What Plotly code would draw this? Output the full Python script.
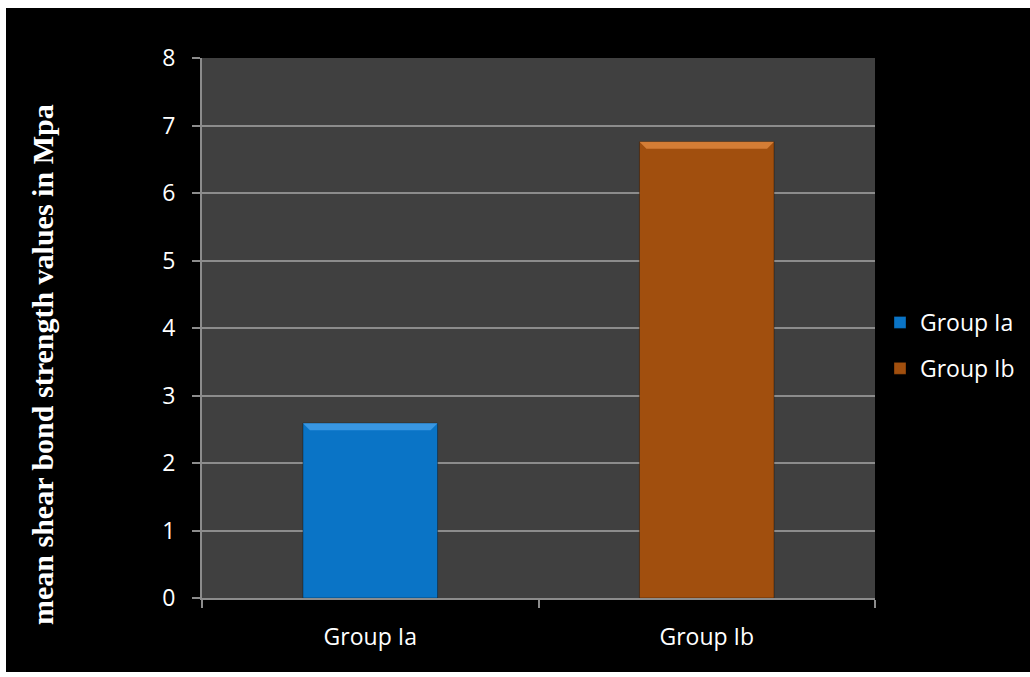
import plotly.graph_objects as go

categories = ["Group Ia", "Group Ib"]
values = [2.59, 6.76]
colors = ["#0A74C6", "#A14F0E"]
highlight = ["#3E9BE6", "#D9823A"]
y_ticks = [0, 1, 2, 3, 4, 5, 6, 7, 8]
y_title = "mean shear bond strength values in Mpa"

W, H = 1030, 677
L, R, T, B = 202, 155, 58, 79
pw, ph = W - L - R, H - T - B


def px_x(px):
    return (px - L) / pw


def px_y(py):
    return (H - B - py) / ph


fig = go.Figure()
for cat, val, col in zip(categories, values, colors):
    fig.add_trace(go.Bar(
        x=[cat], y=[val], name=cat, legendgroup=cat,
        marker=dict(color=col, line=dict(color="rgba(0,0,0,0.35)", width=1)),
        width=0.4,
    ))

# bevel highlight along the top of each bar
bw = 0.4
for i, (val, hc) in enumerate(zip(values, highlight)):
    dy = 7 / (ph / 8)
    dx = 7 / (pw / 2)
    x0, x1 = i - bw / 2, i + bw / 2
    fig.add_shape(
        type="path", xref="x", yref="y",
        path=f"M {x0},{val} L {x1},{val} L {x1 - dx},{val - dy} L {x0 + dx},{val - dy} Z",
        fillcolor=hc, line=dict(width=0), opacity=0.9, layer="above",
    )

# thin white frame around the black page
for x0, x1, y0, y1 in [(0, 6, 0, H), (0, W, 0, 8), (0, W, 672, H)]:
    fig.add_shape(
        type="rect", xref="paper", yref="paper",
        x0=px_x(x0), x1=px_x(x1), y0=px_y(y1), y1=px_y(y0),
        fillcolor="white", line=dict(width=0), layer="above",
    )

fig.add_annotation(
    text=f"<b>{y_title}</b>", xref="paper", yref="paper",
    x=px_x(42), y=px_y(365), textangle=-90, showarrow=False,
    xanchor="center", yanchor="middle",
    font=dict(family="Liberation Serif", size=30, color="white"),
)

fig.update_layout(
    width=W, height=H,
    margin=dict(l=L, r=R, t=T, b=B, pad=0, autoexpand=False),
    paper_bgcolor="black",
    plot_bgcolor="#404040",
    barmode="overlay",
    font=dict(family="Open Sans", color="white", size=23),
    showlegend=True,
    legend=dict(
        x=px_x(880), y=px_y(301), xanchor="left", yanchor="top",
        bgcolor="rgba(0,0,0,0)", font=dict(size=23, color="white"),
        tracegroupgap=13, itemwidth=30,
    ),
    xaxis=dict(
        type="category", categoryorder="array", categoryarray=categories,
        range=[-0.5, 1.5],
        showgrid=False, showline=True, linecolor="#8C8C8C", linewidth=2,
        ticks="outside", tickson="boundaries", ticklen=8, tickcolor="#8C8C8C", tickwidth=2,
        tickfont=dict(size=23, color="white"), ticklabelstandoff=17,
    ),
    yaxis=dict(
        range=[0, 8], tickvals=y_ticks,
        showgrid=True, gridcolor="#8C8C8C", gridwidth=2,
        showline=True, linecolor="#8C8C8C", linewidth=2,
        ticks="outside", ticklen=8, tickcolor="#8C8C8C", tickwidth=2,
        tickfont=dict(size=23, color="white"), ticklabelstandoff=12,
        zeroline=False,
    ),
)

fig.write_html("out.html")
